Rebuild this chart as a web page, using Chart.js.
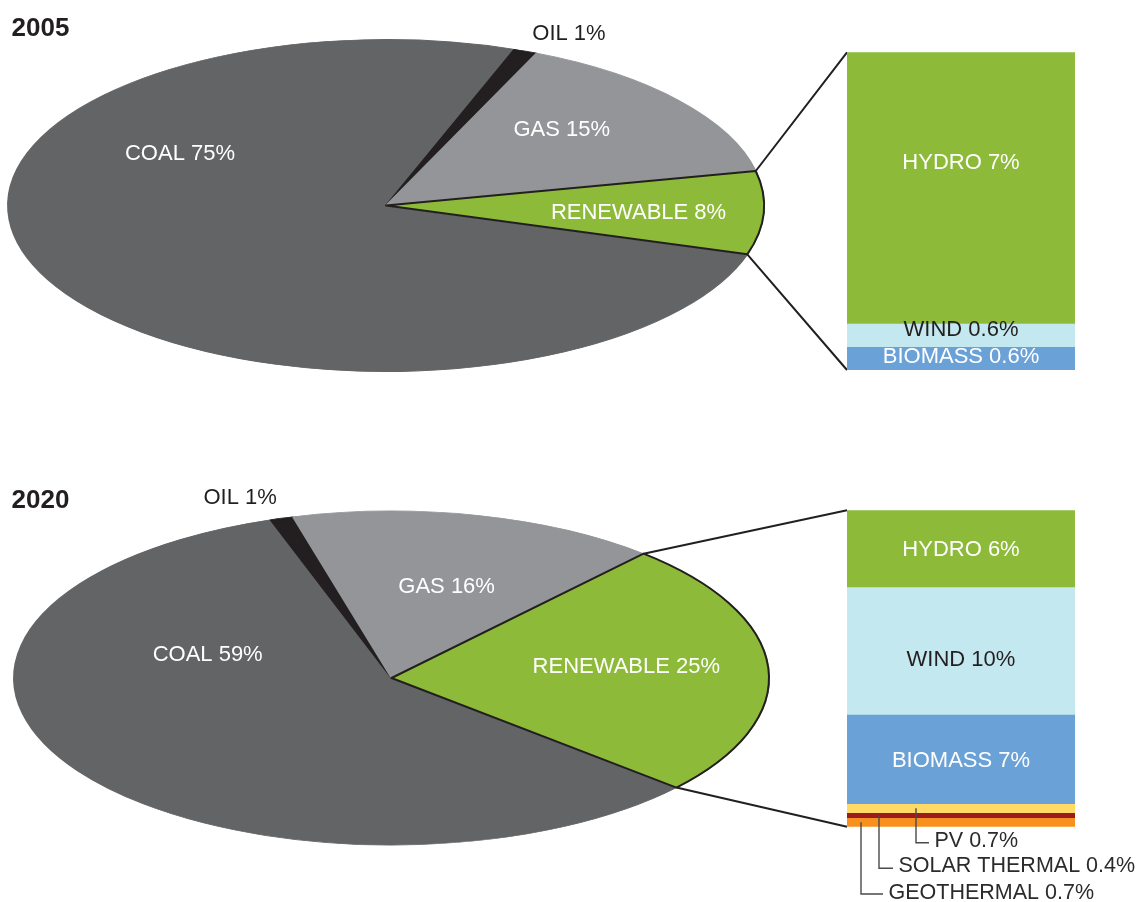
<!DOCTYPE html>
<html>
<head>
<meta charset="utf-8">
<script src="https://cdn.jsdelivr.net/npm/chart.js@4.4.0/dist/chart.umd.min.js"></script>
<style>
  html, body { margin: 0; padding: 0; background: #ffffff; width: 1143px; height: 902px; overflow: hidden; }
  canvas { position: absolute; left: 0; top: 0; }
</style>
</head>
<body>
<canvas id="pie2005" width="1143" height="902"></canvas>
<canvas id="pie2020" width="1143" height="902"></canvas>
<canvas id="bar2005" width="1143" height="902"></canvas>
<canvas id="bar2020" width="1143" height="902"></canvas>
<script>
// ---------- DATA ----------
const yearLabels = ['2005', '2020'];
const pieCategories = ['COAL', 'OIL', 'GAS', 'RENEWABLE'];
const pieShares2005 = [75, 1, 15, 8];
const pieShares2020 = [59, 1, 16, 25];
const renewableCategories = ['HYDRO', 'WIND', 'BIOMASS', 'PV', 'SOLAR THERMAL', 'GEOTHERMAL'];
const renewableShares2005 = [7, 0.6, 0.6];
const renewableShares2020 = [6, 10, 7, 0.7, 0.4, 0.7];

// ---------- STYLE ----------
const FONT = '"Liberation Sans", Arial, Helvetica, sans-serif';
const DARK = '#231f20';
const PIE_COLORS = ['#636466', '#231f20', '#939598', '#8dbb39'];
const PIE_TEXT_COLORS = ['#ffffff', '#231f20', '#ffffff', '#ffffff'];
const BAR_COLORS = ['#8dbb39', '#c4e8ef', '#6aa1d6', '#ffda66', '#9b1b1e', '#f7901e'];
const BAR_TEXT_COLORS = ['#ffffff', '#231f20', '#ffffff', '#2b2b2b', '#2b2b2b', '#2b2b2b'];

// ---------- LAYOUT ----------
const W = 1143, H = 902;
const ROWS = [
  {
    year: yearLabels[0], shares: pieShares2005, renew: renewableShares2005,
    cx: 386, cy: 205.5, rx: 378, ry: 166, startDeg: 17.1, titleBaseline: 35.7,
    pieLabelPos: [[-0.545, -0.313], [0.484, -1.033], [0.465, -0.458], [0.668, 0.044]],
    bar: { left: 847, right: 1075, top: 52.3, bottom: 370 },
    inBar: 3, barLabelDy: [-24.6, -5, -1.7], leaders: []
  },
  {
    year: yearLabels[1], shares: pieShares2020, renew: renewableShares2020,
    cx: 391.5, cy: 678, rx: 377.5, ry: 167, startDeg: 41.0, titleBaseline: 508.3,
    pieLabelPos: [[-0.487, -0.138], [-0.401, -1.079], [0.146, -0.544], [0.622, -0.068]],
    bar: { left: 847, right: 1075, top: 510.3, bottom: 826.7 },
    inBar: 3, barLabelDy: [1, 9.5, 2],
    leaders: [
      { dx: 69, lineY: 842.7, len: 13, textY: 841 },
      { dx: 32, lineY: 868.3, len: 14, textY: 866 },
      { dx: 14, lineY: 894, len: 22, textY: 893 }
    ]
  }
];
const barCharts = [];

// ---------- PLUGINS ----------
const barLabelPlugin = {
  id: 'barLabels',
  afterDatasetsDraw(chart, args, o) {
    const row = ROWS[o.rowIndex];
    const ctx = chart.ctx;
    ctx.save();
    chart.data.datasets.forEach((ds, i) => {
      const p = chart.getDatasetMeta(i).data[0].getProps(['x', 'y', 'base', 'width'], true);
      const text = ds.label + ' ' + ds.data[0] + '%';
      const mid = (p.y + p.base) / 2;
      const left = p.x - p.width / 2;
      if (i < row.inBar) {
        ctx.font = '22px ' + FONT;
        ctx.fillStyle = BAR_TEXT_COLORS[i];
        ctx.textAlign = 'center';
        ctx.textBaseline = 'middle';
        ctx.fillText(text, p.x, mid + row.barLabelDy[i]);
      } else {
        const L = row.leaders[i - row.inBar];
        const lx = left + L.dx;
        ctx.strokeStyle = '#4a4a4a';
        ctx.lineWidth = 1.4;
        ctx.beginPath();
        ctx.moveTo(lx, mid);
        ctx.lineTo(lx, L.lineY);
        ctx.lineTo(lx + L.len, L.lineY);
        ctx.stroke();
        ctx.font = '21.5px ' + FONT;
        ctx.fillStyle = BAR_TEXT_COLORS[i];
        ctx.textAlign = 'left';
        ctx.textBaseline = 'middle';
        ctx.fillText(text, lx + L.len + 5.5, L.textY);
      }
    });
    ctx.restore();
  }
};

const ellipsePiePlugin = {
  id: 'ellipsePie',
  beforeDatasetsDraw(chart, args, o) {
    const row = ROWS[o.rowIndex];
    const el = chart.getDatasetMeta(0).data[0];
    const ctx = chart.ctx;
    ctx.save();
    ctx.translate(el.x, el.y);
    ctx.scale(row.rx / row.ry, 1);
    ctx.translate(-el.x, -el.y);
  },
  afterDatasetsDraw(chart, args, o) {
    const ctx = chart.ctx;
    ctx.restore();
    const row = ROWS[o.rowIndex];
    const sx = row.rx / row.ry;
    const meta = chart.getDatasetMeta(0);
    const ren = meta.data[meta.data.length - 1];
    const g = ren.getProps(['x', 'y', 'startAngle', 'endAngle', 'outerRadius'], true);
    const rx = g.outerRadius * sx, ry = g.outerRadius;

    ctx.save();
    // outline of the highlighted (renewable) slice
    ctx.strokeStyle = DARK;
    ctx.lineWidth = 2;
    ctx.lineJoin = 'round';
    ctx.beginPath();
    ctx.moveTo(g.x, g.y);
    ctx.ellipse(g.x, g.y, rx, ry, 0, g.startAngle, g.endAngle, false);
    ctx.closePath();
    ctx.stroke();

    // connectors to the stacked bar
    const bc = barCharts[o.rowIndex];
    let top = Infinity, bottom = -Infinity, left = Infinity;
    bc.data.datasets.forEach((d, i) => {
      const b = bc.getDatasetMeta(i).data[0].getProps(['x', 'y', 'base', 'width'], true);
      top = Math.min(top, b.y, b.base);
      bottom = Math.max(bottom, b.y, b.base);
      left = Math.min(left, b.x - b.width / 2);
    });
    const p1 = [g.x + rx * Math.cos(g.startAngle), g.y + ry * Math.sin(g.startAngle)];
    const p2 = [g.x + rx * Math.cos(g.endAngle), g.y + ry * Math.sin(g.endAngle)];
    ctx.beginPath();
    ctx.moveTo(p1[0], p1[1]); ctx.lineTo(left, top);
    ctx.moveTo(p2[0], p2[1]); ctx.lineTo(left, bottom);
    ctx.stroke();

    // slice labels
    ctx.font = '22px ' + FONT;
    ctx.textAlign = 'center';
    ctx.textBaseline = 'middle';
    chart.data.labels.forEach((lab, i) => {
      const pos = row.pieLabelPos[i];
      ctx.fillStyle = PIE_TEXT_COLORS[i];
      ctx.fillText(lab + ' ' + chart.data.datasets[0].data[i] + '%', g.x + pos[0] * rx, g.y + pos[1] * ry);
    });

    // year title
    ctx.font = 'bold 26px ' + FONT;
    ctx.fillStyle = DARK;
    ctx.textAlign = 'left';
    ctx.textBaseline = 'alphabetic';
    ctx.fillText(row.year, 11.5, row.titleBaseline);
    ctx.restore();
  }
};

// ---------- CHARTS ----------
ROWS.forEach((row, idx) => {
  const total = row.renew.reduce((a, b) => a + b, 0);
  barCharts[idx] = new Chart(document.getElementById('bar' + row.year), {
    type: 'bar',
    data: {
      labels: [row.year],
      datasets: row.renew.map((v, i) => ({
        label: renewableCategories[i],
        data: [v],
        backgroundColor: BAR_COLORS[i],
        borderWidth: 0,
        barPercentage: 1,
        categoryPercentage: 1,
        stack: 'renewable'
      }))
    },
    options: {
      responsive: false,
      animation: false,
      devicePixelRatio: 1,
      layout: { padding: { left: row.bar.left, right: W - row.bar.right, top: row.bar.top, bottom: H - row.bar.bottom } },
      scales: {
        x: { display: false, stacked: true },
        y: { display: false, stacked: true, reverse: true, min: 0, max: total }
      },
      plugins: { legend: { display: false }, tooltip: { enabled: false }, barLabels: { rowIndex: idx } }
    },
    plugins: [barLabelPlugin]
  });
});

ROWS.forEach((row, idx) => {
  const padTop = row.cy < H / 2 ? 0 : 2 * row.cy - H;
  const padBottom = row.cy < H / 2 ? H - 2 * row.cy : 0;
  new Chart(document.getElementById('pie' + row.year), {
    type: 'pie',
    data: {
      labels: pieCategories,
      datasets: [{
        data: row.shares,
        backgroundColor: PIE_COLORS,
        borderColor: PIE_COLORS,
        borderWidth: 0.8,
        radius: row.ry
      }]
    },
    options: {
      responsive: false,
      animation: false,
      devicePixelRatio: 1,
      rotation: row.startDeg + 90,
      radius: row.ry,
      layout: { padding: { left: 0, right: W - 2 * row.cx, top: padTop, bottom: padBottom } },
      plugins: { legend: { display: false }, tooltip: { enabled: false }, ellipsePie: { rowIndex: idx } }
    },
    plugins: [ellipsePiePlugin]
  });
});
</script>
</body>
</html>
